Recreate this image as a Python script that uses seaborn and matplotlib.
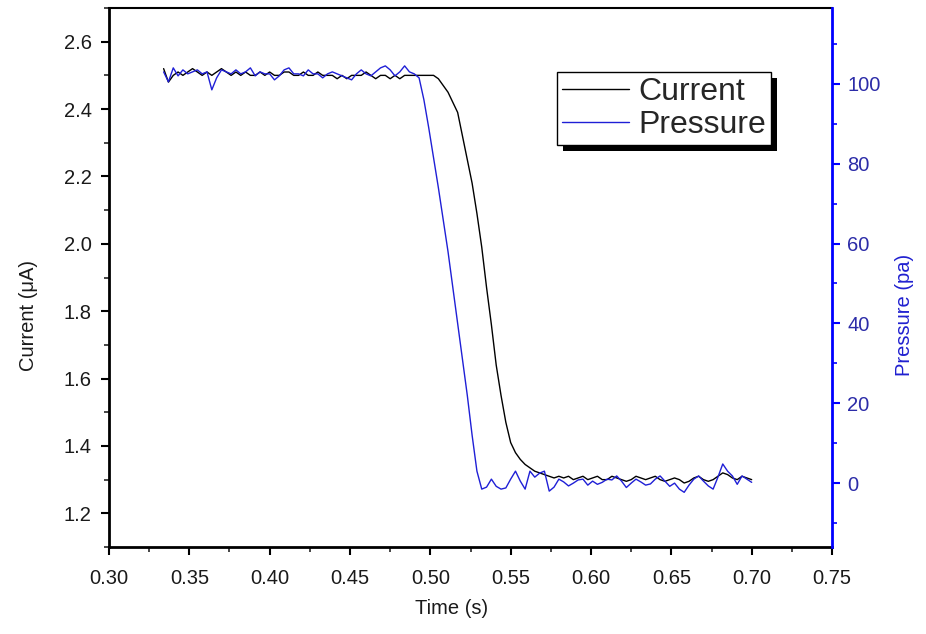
import numpy as np
import pandas as pd
import matplotlib
matplotlib.use("Agg")
import matplotlib.pyplot as plt
import seaborn as sns
from matplotlib.ticker import MultipleLocator, FormatStrFormatter
from matplotlib.patches import Rectangle
from matplotlib.transforms import IdentityTransform

# values, one sample every 3 ms from 0.334 s to 0.700 s
current = [
    2.52, 2.48, 2.50, 2.51, 2.50, 2.51, 2.52, 2.51, 2.50, 2.51,
    2.50, 2.51, 2.52, 2.51, 2.50, 2.51, 2.50, 2.51, 2.50, 2.50,
    2.51, 2.50, 2.51, 2.50, 2.50, 2.51, 2.51, 2.50, 2.50, 2.51,
    2.50, 2.50, 2.51, 2.50, 2.50, 2.50, 2.49, 2.50, 2.49, 2.50,
    2.50, 2.50, 2.51, 2.50, 2.49, 2.50, 2.50, 2.49, 2.50, 2.49,
    2.50, 2.50, 2.50, 2.50, 2.50, 2.50,
    2.50, 2.49, 2.47, 2.45, 2.42, 2.39, 2.32, 2.25, 2.18, 2.09,
    1.99, 1.87, 1.76, 1.64, 1.55, 1.47, 1.41, 1.38, 1.36, 1.345,
    1.335, 1.325, 1.32, 1.315, 1.31, 1.305,
    1.31, 1.305, 1.31, 1.30, 1.305, 1.31, 1.30, 1.305, 1.31, 1.30,
    1.30, 1.31, 1.305, 1.30, 1.295, 1.30, 1.31, 1.305, 1.30, 1.305,
    1.31, 1.30, 1.295, 1.30, 1.305, 1.30, 1.29, 1.295, 1.305, 1.31,
    1.30, 1.295, 1.30, 1.31, 1.32, 1.315, 1.305, 1.30, 1.31, 1.305,
    1.30,
]
pressure = [
    103, 100.5, 104, 102, 103.5, 102.5, 103, 103.5, 102.5, 103,
    98.5, 101.5, 103.5, 103, 102.5, 103.5, 102.5, 103, 104, 102,
    103, 102.5, 102.5, 101, 102, 103.5, 104, 102.5, 102.5, 102,
    103.5, 102.5, 102.5, 101.5, 102.5, 103, 102.5, 102, 101.5, 101,
    102.5, 103.5, 102.5, 102, 103, 104, 104.5, 103.5, 102, 103,
    104.5, 103, 102.5, 101.5,
    96, 89, 81.5, 74, 66, 58, 49, 40, 31, 22, 12, 3,
    -1.5, -1, 1, -0.8, -1.5, -1.2, 1, 3, 0.5, -1.5,
    3, 1.5, 2.5, 3, -2, -1, 1, 0.3, -0.7, 0,
    0.8, 1, -0.5, 0.5, -0.3, 0.2, 1, 0.8, 1.8, 0.5,
    -1.1, 0, 1, 0.3, -0.5, -0.2, 1, 1.8, 0.5, -0.8,
    0, -1.5, -2.3, -0.5, 1, 1.8, 0.5, -0.7, -1.5, 1.5,
    4.8, 3, 1.8, -0.3, 1.8, 1, 0.2,
]
t_start, t_end = 0.334, 0.700
x_ticks = [0.30, 0.35, 0.40, 0.45, 0.50, 0.55, 0.60, 0.65, 0.70, 0.75]

time = np.linspace(t_start, t_end, len(current))
df = pd.DataFrame({"Time": time, "Current": current, "Pressure": pressure})

sns.set_theme(style="ticks")
plt.rcParams["font.family"] = ["Liberation Sans", "DejaVu Sans"]

BLUE = "#1f1fd6"
fig = plt.figure(figsize=(9.26, 6.34), dpi=100)
ax = fig.add_axes([0.1177, 0.1372, 0.7808, 0.8502])
ax2 = ax.twinx()

sns.lineplot(data=df, x="Time", y="Current", ax=ax, color="black",
             lw=1.0, sort=False, label="Current", legend=False)
sns.lineplot(data=df, x="Time", y="Pressure", ax=ax2, color=BLUE,
             lw=1.0, sort=False, label="Pressure", legend=False)

ax.set_xlim(0.30, 0.75)
ax.set_ylim(1.1, 2.7)
ax2.set_ylim(-16, 119)

ax.set_xticks(x_ticks)
ax.xaxis.set_minor_locator(MultipleLocator(0.025))
ax.yaxis.set_major_locator(MultipleLocator(0.2))
ax.yaxis.set_minor_locator(MultipleLocator(0.1))
ax.yaxis.set_major_formatter(FormatStrFormatter("%.1f"))
ax.xaxis.set_major_formatter(FormatStrFormatter("%.2f"))
ax2.yaxis.set_major_locator(MultipleLocator(20))
ax2.yaxis.set_minor_locator(MultipleLocator(10))

for a in (ax, ax2):
    a.tick_params(which="major", direction="out", length=6, width=1.5,
                  labelsize=14.5, pad=6.5)
    a.tick_params(which="minor", direction="out", length=3.5, width=1.2)
ax.tick_params(colors="black", labelcolor="#1a1a1a")
ax.tick_params(axis="x", which="major", pad=9.5)
ax2.tick_params(axis="y", which="both", colors="#0000ff",
                labelcolor="#2c2ca8", pad=5)

for side in ("left", "bottom"):
    ax.spines[side].set_linewidth(2.0)
    ax.spines[side].set_color("black")
ax.spines["top"].set_linewidth(1.5)
ax.spines["top"].set_color("black")
ax.spines["right"].set_visible(False)
for side in ("left", "bottom", "top"):
    ax2.spines[side].set_visible(False)
ax2.spines["right"].set_color("#0000ff")
ax2.spines["right"].set_linewidth(2.0)

ax.set_xlabel("Time (s)", fontsize=14.5, color="#1a1a1a")
ax.set_ylabel("Current (\u03bcA)", fontsize=14.5, color="#1a1a1a")
ax2.set_ylabel("Pressure (pa)", fontsize=14.5, color="#2020d0")
ax.xaxis.set_label_coords(0.474, -0.097)
ax.yaxis.set_label_coords(-0.098, 0.43)
ax2.yaxis.set_label_coords(1.087, 0.43)

h1, l1 = ax.get_legend_handles_labels()
h2, l2 = ax2.get_legend_handles_labels()
leg = ax2.legend(h1 + h2, l1 + l2, loc="upper left",
                 bbox_to_anchor=(0.62, 0.881), borderaxespad=0,
                 fontsize=23, frameon=True, fancybox=False,
                 edgecolor="black", framealpha=1, handlelength=2.1,
                 handletextpad=0.28, labelspacing=0.1, borderpad=0.15)
leg.get_frame().set_linewidth(1.0)

# thick black drop shadow like the original software draws
fig.canvas.draw()
bb = leg.get_frame().get_window_extent(fig.canvas.get_renderer())
shadow = Rectangle((bb.x0 + 6, bb.y0 - 6), bb.width, bb.height,
                   transform=IdentityTransform(), facecolor="black",
                   edgecolor="none", zorder=4, clip_on=False)
ax2.add_patch(shadow)
leg.set_zorder(5)

fig.savefig("out.png", dpi=100)
